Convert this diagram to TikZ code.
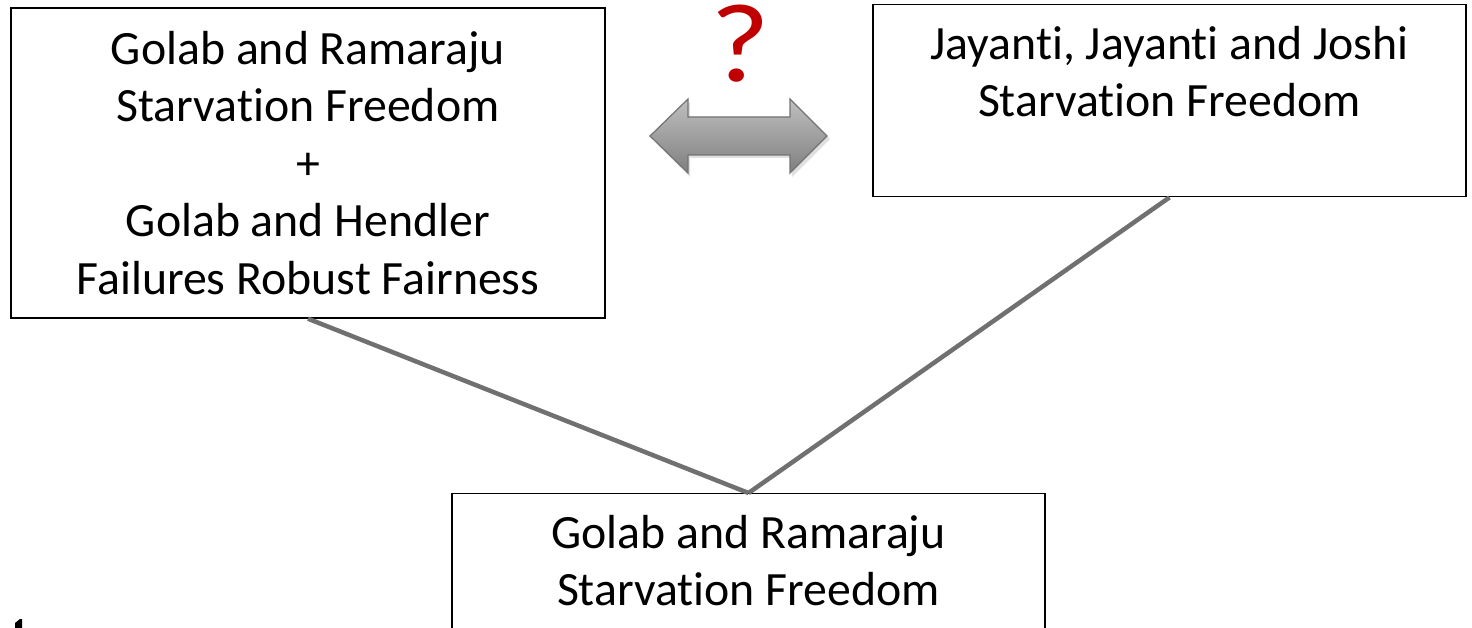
\documentclass[tikz,border=0pt]{standalone}
\usepackage{fontspec}
\setmainfont[RawFeature={-liga;-dlig;-clig}]{Carlito}
\begin{document}
\begin{tikzpicture}[x=1pt,y=-1pt,
  box/.style={draw=black,line width=1.4pt,fill=white,inner sep=0pt},
  label/.style={align=center,inner sep=0pt,font=\fontsize{47.8}{57.5}\selectfont},
  link/.style={draw=black!56,line width=4.5pt}]
\useasboundingbox (0,0) rectangle (1472,628);
\begin{scope}
\clip (0,0) rectangle (1472,628);
% the three statement boxes
\node[box,minimum width=594pt,minimum height=310pt] (gr) at (308,163) {};
\node[label] (grtxt) at (308,163)
  {Golab and Ramaraju\\Starvation Freedom\\+\\Golab and Hendler\\Failures Robust Fairness};
\node[box,minimum width=593pt,minimum height=192pt,anchor=north] (jjj) at (1169.5,4) {};
\node[label,anchor=north] (jjjtxt) at (1169.5,26)
  {Jayanti, Jayanti and Joshi\\Starvation Freedom};
\node[box,minimum width=593pt,minimum height=220pt,anchor=north] (base) at (748.5,493) {};
\node[label,anchor=north] (basetxt) at (748.5,515)
  {Golab and Ramaraju\\Starvation Freedom};
% implication lines meeting at the lower box
\coordinate (meet) at (base.north);
\draw[link] (gr.south) -- (meet);
\draw[link] (jjj.south) -- (meet);
\end{scope}
% two-headed gray arrow with its shadow
\fill[black,opacity=0.12] (652,139) -- (690,102) -- (690,121) -- (792,121) -- (792,102)
  -- (830,139) -- (792,177) -- (792,158) -- (690,158) -- (690,177) -- cycle;
\draw[draw=black!55,line width=1.2pt,top color=black!25,bottom color=black!50]
  (650,136) -- (688,99) -- (688,117) -- (790,117) -- (790,99) -- (827,136)
  -- (790,173) -- (790,155) -- (688,155) -- (688,173) -- cycle;
% question mark above the arrow
\node[text={rgb,255:red,192;green,0;blue,0},inner sep=0pt,anchor=base,
  font=\fontsize{112}{112}\selectfont] (qm) at (740,82) {\scalebox{1.15}[1]{?}};
% fragment at the lower left edge
\fill[black] (15,628) -- (15,623) -- (20,619) -- (22,619) -- (22,628) -- cycle;
\end{tikzpicture}
\end{document}
